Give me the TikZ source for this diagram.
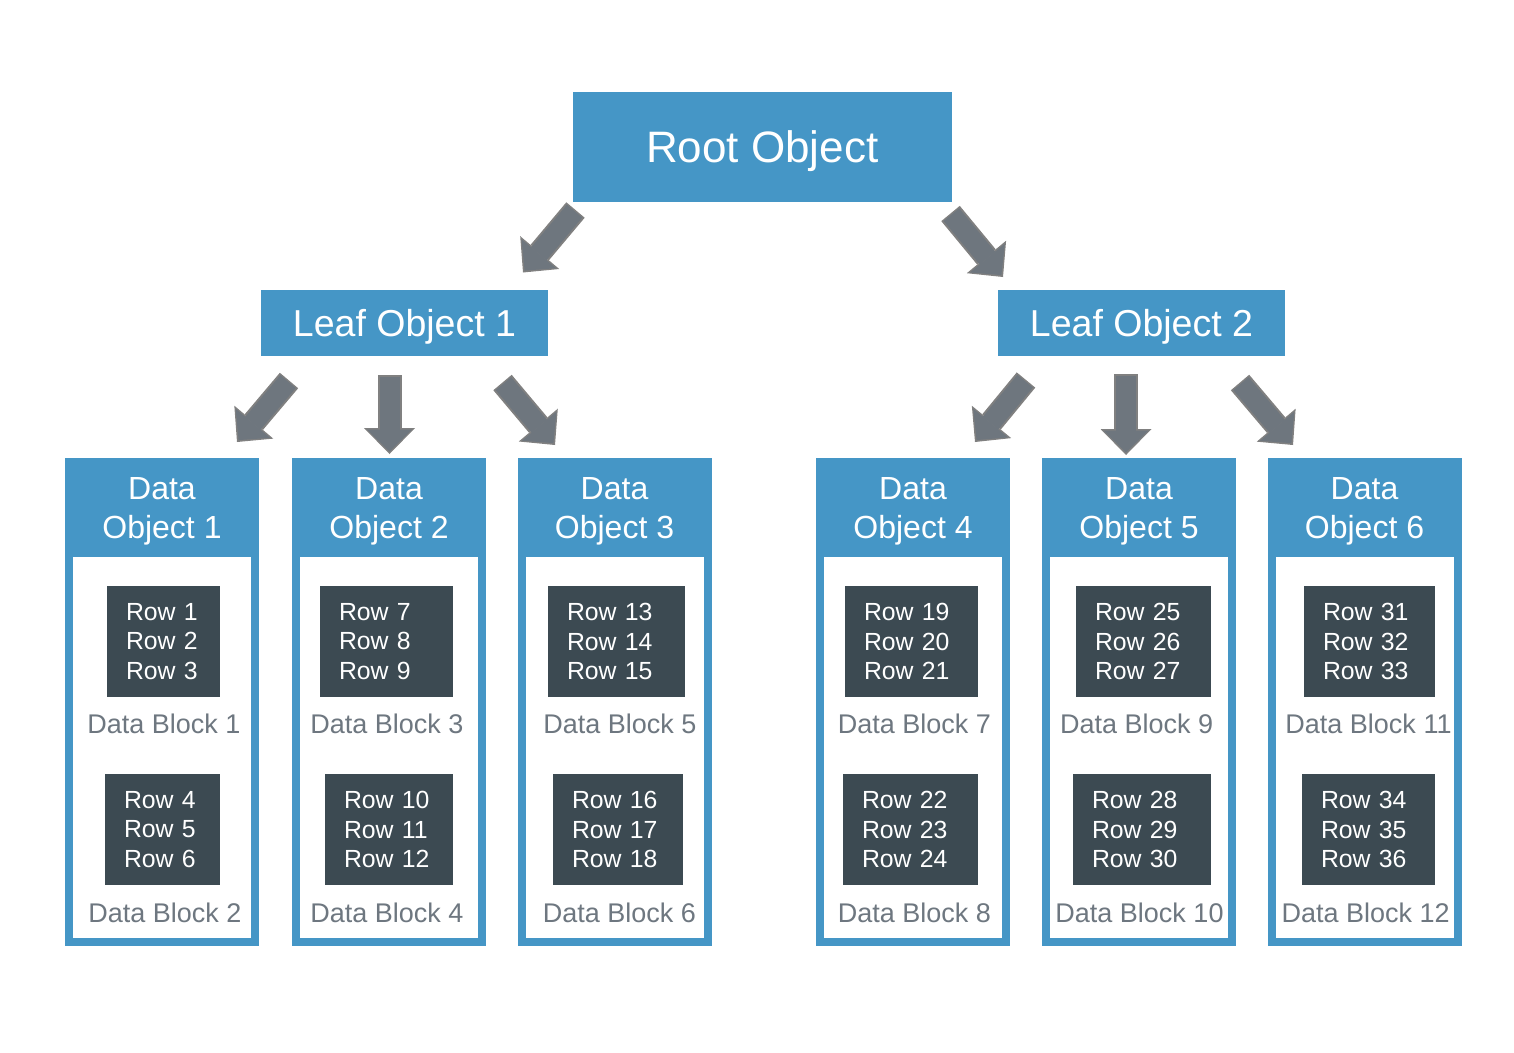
\documentclass[tikz,border=0pt]{standalone}
\usepackage{fontspec}
\setmainfont{Liberation Sans}
\usetikzlibrary{arrows.meta}

\newlength{\du}
\setlength{\du}{1pt}

\definecolor{objblue}{RGB}{69,150,198}
\definecolor{rowdark}{RGB}{60,74,82}
\definecolor{blockgrey}{RGB}{110,119,128}
\definecolor{arrowgrey}{RGB}{110,118,126}
\definecolor{arrowedge}{RGB}{128,128,128}

\tikzset{
  rootbox/.style={fill=objblue, text=white, inner sep=0pt, text depth=0pt, minimum width=379\du, minimum height=110\du, font=\fontsize{44}{53}\selectfont},
  leafbox/.style={fill=objblue, text=white, inner sep=0pt, text depth=0pt, minimum width=287\du, minimum height=66\du, font=\fontsize{37.5}{45}\selectfont},
  dataframe/.style={draw=objblue, fill=white, line width=8\du, inner sep=0pt, minimum width=186\du, minimum height=479\du},
  datahead/.style={fill=objblue, text=white, inner sep=0pt, text depth=0pt, align=center, minimum width=194\du, minimum height=99\du, font=\fontsize{32}{39}\selectfont},
  rowbox/.style={fill=rowdark, text=white, align=left, inner xsep=19\du, inner ysep=0pt, minimum height=111\du, font=\fontsize{24.8}{29.5}\selectfont},
  blocklabel/.style={text=blockgrey, inner sep=0pt, font=\fontsize{27}{32}\selectfont},
  treearrow/.style={preaction={draw=arrowedge, line width=24\du, shorten <=0pt, shorten >=0pt, -{Triangle[length=26pt, width=51pt, line width=0pt]}},
    draw=arrowgrey, line width=20\du, shorten <=1.5pt, shorten >=2.5pt, -{Triangle[length=22pt, width=45pt, line width=0pt]}}
}

\begin{document}
\begin{tikzpicture}[yscale=-1]
\useasboundingbox (0\du,0\du) rectangle (1514\du,1052\du);

% objects of the tree
\node[rootbox] (root) at (762.2\du,146.7\du) {Root Object};
\node[leafbox] (leaf1) at (404.5\du,322.5\du) {Leaf Object 1};
\node[leafbox] (leaf2) at (1141.5\du,322.5\du) {Leaf Object 2};

% data object 1
\node[dataframe] (dobj1) at (162\du,702\du) {};
\node[datahead] (dhead1) at (162\du,507.5\du) {Data\\Object 1};
\node[rowbox, text width=75\du] (rows1) at (163.5\du,641.5\du) {Row 1\\Row 2\\Row 3};
\node[blocklabel] (block1) at (164\du,724\du) {Data Block 1};
\node[rowbox, text width=77\du] (rows2) at (162.5\du,829.5\du) {Row 4\\Row 5\\Row 6};
\node[blocklabel] (block2) at (164.8\du,913\du) {Data Block 2};

% data object 2
\node[dataframe] (dobj2) at (389\du,702\du) {};
\node[datahead] (dhead2) at (389\du,507.5\du) {Data\\Object 2};
\node[rowbox, text width=95\du] (rows3) at (386.5\du,641.5\du) {Row 7\\Row 8\\Row 9};
\node[blocklabel] (block3) at (387\du,724\du) {Data Block 3};
\node[rowbox, text width=90\du] (rows4) at (389\du,829.5\du) {Row 10\\Row 11\\Row 12};
\node[blocklabel] (block4) at (387\du,913\du) {Data Block 4};

% data object 3
\node[dataframe] (dobj3) at (614.5\du,702\du) {};
\node[datahead] (dhead3) at (614.5\du,507.5\du) {Data\\Object 3};
\node[rowbox, text width=99\du] (rows5) at (616.5\du,641.5\du) {Row 13\\Row 14\\Row 15};
\node[blocklabel] (block5) at (619.8\du,724\du) {Data Block 5};
\node[rowbox, text width=92\du] (rows6) at (618\du,829.5\du) {Row 16\\Row 17\\Row 18};
\node[blocklabel] (block6) at (619.5\du,913\du) {Data Block 6};

% data object 4
\node[dataframe] (dobj4) at (913\du,702\du) {};
\node[datahead] (dhead4) at (913\du,507.5\du) {Data\\Object 4};
\node[rowbox, text width=95\du] (rows7) at (911.5\du,641.5\du) {Row 19\\Row 20\\Row 21};
\node[blocklabel] (block7) at (914.5\du,724\du) {Data Block 7};
\node[rowbox, text width=97\du] (rows8) at (910.5\du,829.5\du) {Row 22\\Row 23\\Row 24};
\node[blocklabel] (block8) at (914.5\du,913\du) {Data Block 8};

% data object 5
\node[dataframe] (dobj5) at (1139\du,702\du) {};
\node[datahead] (dhead5) at (1139\du,507.5\du) {Data\\Object 5};
\node[rowbox, text width=97\du] (rows9) at (1143.5\du,641.5\du) {Row 25\\Row 26\\Row 27};
\node[blocklabel] (block9) at (1136.7\du,724\du) {Data Block 9};
\node[rowbox, text width=100\du] (rows10) at (1142\du,829.5\du) {Row 28\\Row 29\\Row 30};
\node[blocklabel] (block10) at (1139.5\du,913\du) {Data Block 10};

% data object 6
\node[dataframe] (dobj6) at (1364.5\du,702\du) {};
\node[datahead] (dhead6) at (1364.5\du,507.5\du) {Data\\Object 6};
\node[rowbox, text width=93\du] (rows11) at (1369.5\du,641.5\du) {Row 31\\Row 32\\Row 33};
\node[blocklabel] (block11) at (1368.5\du,724\du) {Data Block 11};
\node[rowbox, text width=95\du] (rows12) at (1368.5\du,829.5\du) {Row 34\\Row 35\\Row 36};
\node[blocklabel] (block12) at (1365.7\du,913\du) {Data Block 12};

% arrow ends
\coordinate (rootL) at (575.5\du,210\du);
\coordinate (rootLtip) at (523\du,272.5\du);
\coordinate (rootR) at (950.5\du,213.5\du);
\coordinate (rootRtip) at (1003\du,277\du);
\coordinate (leaf1L) at (289\du,380.5\du);
\coordinate (leaf1Ltip) at (237\du,442\du);
\coordinate (leaf1M) at (389.5\du,375\du);
\coordinate (leaf1Mtip) at (389.5\du,454\du);
\coordinate (leaf1R) at (502.5\du,382.5\du);
\coordinate (leaf1Rtip) at (555\du,445\du);
\coordinate (leaf2L) at (1026\du,380\du);
\coordinate (leaf2Ltip) at (975\du,442\du);
\coordinate (leaf2M) at (1126\du,374\du);
\coordinate (leaf2Mtip) at (1126\du,455\du);
\coordinate (leaf2R) at (1240\du,382.5\du);
\coordinate (leaf2Rtip) at (1293\du,445\du);

% arrows
\draw[treearrow] (rootL) -- (rootLtip);
\draw[treearrow] (rootR) -- (rootRtip);
\draw[treearrow] (leaf1L) -- (leaf1Ltip);
\draw[treearrow] (leaf1M) -- (leaf1Mtip);
\draw[treearrow] (leaf1R) -- (leaf1Rtip);
\draw[treearrow] (leaf2L) -- (leaf2Ltip);
\draw[treearrow] (leaf2M) -- (leaf2Mtip);
\draw[treearrow] (leaf2R) -- (leaf2Rtip);
\end{tikzpicture}
\end{document}
